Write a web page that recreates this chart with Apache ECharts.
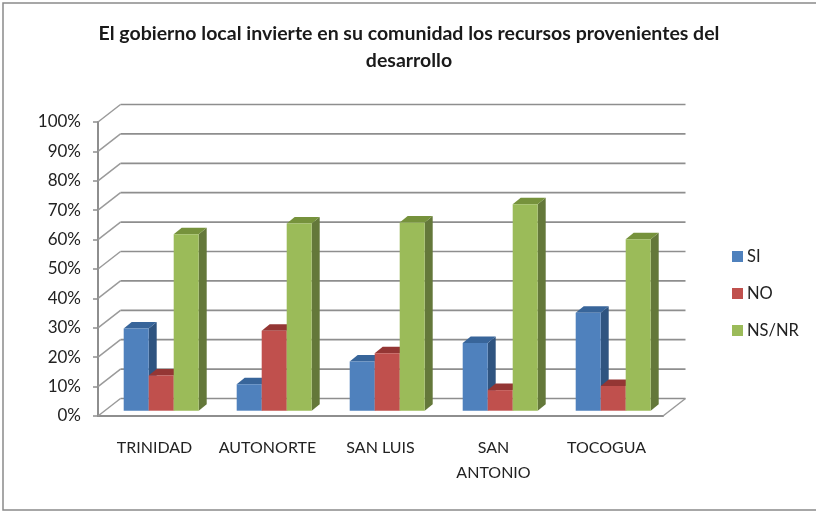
<!DOCTYPE html>
<html><head><meta charset="utf-8">
<style>html,body{margin:0;padding:0;background:#fff}#c{width:816px;height:511px}</style>
<script src="https://cdn.jsdelivr.net/npm/echarts@6/dist/echarts.min.js"></script>
</head><body><div id="c"></div>
<script>
const titleText = "El gobierno local invierte en su comunidad los recursos provenientes del\ndesarrollo";
const categories = ["TRINIDAD","AUTONORTE","SAN LUIS","SAN\nANTONIO","TOCOGUA"];
const SI = [28,9,16.7,23,33.3];
const NO = [12,27.2,19.5,7,8.4];
const NSNR = [60,63.7,64,70.2,58.3];
const ticks = [0,10,20,30,40,50,60,70,80,90,100];

const FONT = 'Lato';
const wallDX = 22.5, wallDY = 17.5;       // depth of the chart box
const barDX = 6.7, barDY = 5.3;           // bar front-plane offset
const sideDX = 8, sideDY = 6.5;           // bar depth
const barFrac = 25/113;

function bar3d(seriesIdx, face, side, top){
  return function(params, api){
    const cat = api.value(0), v = api.value(1);
    const p = api.coord([cat, v]), b = api.coord([cat, 0]);
    const w = api.size([1,0])[0]*barFrac;
    const x0 = p[0] + barDX + (seriesIdx-1.5)*w, x1 = x0 + w;
    const yT = p[1]-barDY, yB = b[1]-barDY;
    return {type:'group',children:[
      {type:'polygon',shape:{points:[[x1,yT],[x1+sideDX,yT-sideDY],[x1+sideDX,yB-sideDY],[x1,yB]]},style:{fill:side}},
      {type:'polygon',shape:{points:[[x0,yT],[x0+sideDX,yT-sideDY],[x1+sideDX,yT-sideDY],[x1,yT]]},style:{fill:top}},
      {type:'rect',shape:{x:x0,y:yT,width:w,height:yB-yT},style:{fill:face}}
    ]};
  };
}
function barSeries(name, values, idx, face, side, top){
  return {type:'custom',name,coordinateSystem:'cartesian2d',itemStyle:{color:face},
    encode:{x:0,y:1},data:values.map((v,i)=>[i,v]),z:3,clip:false,silent:true,
    renderItem:bar3d(idx,face,side,top)};
}
const wall = {type:'custom',name:'wall',coordinateSystem:'cartesian2d',silent:true,z:1,clip:false,
  encode:{y:0},data:ticks.map(t=>[t]),
  renderItem(params,api){
    const cs = params.coordSys, t = api.value(0);
    const y = api.coord([0,t])[1], xL = cs.x, xR = cs.x+cs.width;
    const line = '#8e8e8e';
    const kids = [
      {type:'line',shape:{x1:xL,y1:y,x2:xL+wallDX,y2:y-wallDY},style:{stroke:'#9a9a9a',lineWidth:1.5}},
      {type:'line',shape:{x1:xL+wallDX,y1:y-wallDY,x2:xR+wallDX,y2:y-wallDY},style:{stroke:line,lineWidth:1.7}}
    ];
    if(t===0) kids.push({type:'line',shape:{x1:xR,y1:y,x2:xR+wallDX,y2:y-wallDY},style:{stroke:'#9a9a9a',lineWidth:1.5}});
    return {type:'group',children:kids};
  }};

const chart = echarts.init(document.getElementById('c'),null,{renderer:'canvas'});
chart.setOption({
  animation:false,
  backgroundColor:'#fff',
  graphic:[{type:'rect',shape:{x:3,y:3,width:830,height:507},style:{fill:'none',stroke:'#8a8a8a',lineWidth:1.5},silent:true,z:-1}],
  title:{text:titleText,left:404,top:15,textAlign:'center',
    textStyle:{fontFamily:FONT,fontWeight:'bold',fontSize:19.5,lineHeight:27,color:'#1a1a1a'}},
  legend:{orient:'vertical',left:727,top:243,itemWidth:11,itemHeight:11,itemGap:20,icon:'rect',
    data:['SI','NO','NS/NR'],selectedMode:false,
    textStyle:{fontFamily:FONT,fontSize:16.5,color:'#222',padding:[0,0,0,-1]}},
  grid:{left:98,top:122,width:565,height:294,containLabel:false},
  xAxis:{type:'category',data:categories,boundaryGap:true,
    axisLine:{lineStyle:{color:'#8e8e8e',width:2}},axisTick:{show:false},
    splitLine:{show:false},
    axisLabel:{interval:0,margin:19,fontFamily:FONT,fontSize:16,lineHeight:25,color:'#222'}},
  yAxis:{type:'value',min:0,max:100,interval:10,
    axisLine:{show:true,lineStyle:{color:'#8e8e8e',width:2}},
    axisTick:{show:true,length:5,lineStyle:{color:'#8e8e8e',width:1.5}},
    splitLine:{show:false},
    axisLabel:{formatter:'{value}%',margin:17,padding:[2,0,0,0],fontFamily:FONT,fontSize:17,color:'#222'}},
  series:[wall,
    barSeries('SI',SI,0,'#4F81BD','#2F5480','#38659A'),
    barSeries('NO',NO,1,'#C0504D','#8C3836','#943634'),
    barSeries('NS/NR',NSNR,2,'#9BBB59','#64783A','#76923C')]
});
</script></body></html>
